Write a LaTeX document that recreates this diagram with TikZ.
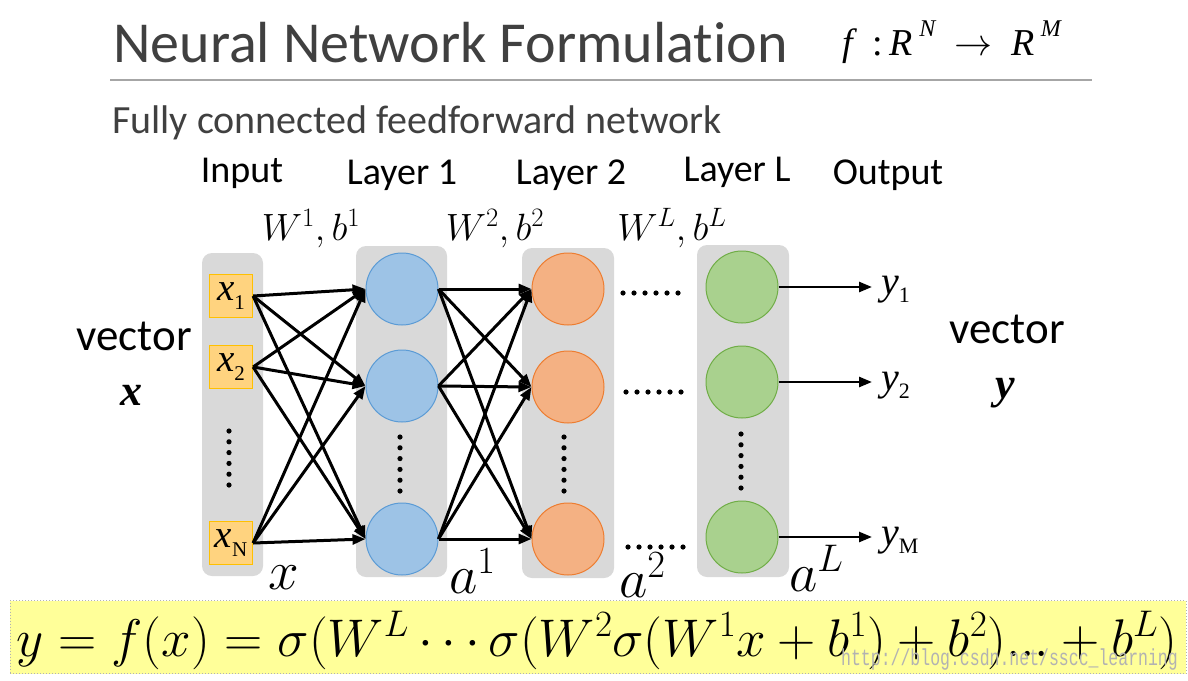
\RequirePackage{fix-cm}
\documentclass[tikz,border=0pt]{standalone}
\usepackage[no-math]{fontspec}
\setmainfont{Carlito}[Ligatures=NoCommon]
\newfontfamily\tnr{Liberation Serif}
\newfontfamily\wmfont{Liberation Mono}
\usetikzlibrary{arrows.meta}
\definecolor{boxgray}{HTML}{D9D9D9}
\definecolor{txtgray}{HTML}{404040}
\definecolor{rulegray}{HTML}{A6A6A6}
\definecolor{infill}{HTML}{FFD37F}
\definecolor{indraw}{HTML}{FFC000}
\definecolor{bluefill}{HTML}{9DC3E6}
\definecolor{bluedraw}{HTML}{5B9BD5}
\definecolor{orfill}{HTML}{F4B183}
\definecolor{ordraw}{HTML}{ED7D31}
\definecolor{grfill}{HTML}{A9D18E}
\definecolor{grdraw}{HTML}{70AD47}
\definecolor{formfill}{HTML}{FFFF99}
\newcommand{\inlab}[1]{{\tnr\fontsize{39}{39}\selectfont\itshape x\raisebox{-0.22em}{\fontsize{21}{21}\selectfont\upshape #1}}}
\newcommand{\outlab}[1]{{\tnr\fontsize{40}{40}\selectfont\itshape y\raisebox{-0.22em}{\fontsize{22}{22}\selectfont\upshape #1}}}
\begin{document}
\begin{tikzpicture}[x=1pt,y=-1pt,
  graybox/.style={fill=boxgray, rounded corners=10pt, inner sep=0pt, draw=none},
  inbox/.style={fill=infill, draw=indraw, line width=1.2pt, minimum size=43pt, inner sep=0pt},
  neuron/.style={circle, minimum size=72pt, inner sep=0pt, line width=1pt},
  blueN/.style={neuron, fill=bluefill, draw=bluedraw},
  orN/.style={neuron, fill=orfill, draw=ordraw},
  grN/.style={neuron, fill=grfill, draw=grdraw},
  conn/.style={line width=3pt, -{Triangle[length=13pt,width=10pt]}},
  outconn/.style={line width=2.5pt, -{Triangle[length=13pt,width=10pt]}, shorten >=9pt},
  layerlab/.style={anchor=base, inner sep=0pt, font=\fontsize{38}{40}\selectfont},
  wlab/.style={anchor=base, inner sep=0pt, font=\fontsize{38}{40}\selectfont},
  alab/.style={anchor=base west, inner sep=0pt, font=\fontsize{55}{58}\selectfont},
  veclab/.style={anchor=base, inner sep=0pt, font=\fontsize{45}{48}\selectfont}
]
\useasboundingbox (0,0) rectangle (1188,680);
\fill[white] (0,0) rectangle (1188,680);

% title
\node[anchor=base west, inner sep=0pt, text=txtgray, font=\fontsize{58}{60}\selectfont] (title) at (113,62) {Neural Network Formulation};
\node[anchor=base west, inner sep=0pt, font=\tnr\fontsize{38}{40}\selectfont] (fmap) at (842,55)
  {\textit{f}\, :\,\textit{R}\,\raisebox{0.5em}{\fontsize{24}{24}\selectfont\itshape N}\enspace$\rightarrow$\enspace\textit{R}\,\raisebox{0.5em}{\fontsize{24}{24}\selectfont\itshape M}};
\draw[rulegray, line width=1.5pt] (110,80) -- (1092,80);
\node[anchor=base west, inner sep=0pt, text=txtgray, font=\fontsize{40}{42}\selectfont] (sub) at (112,133) {Fully connected feedforward network};

% layer labels
\node[layerlab] (lin) at (242,182) {Input};
\node[layerlab] (l1) at (402,184) {Layer 1};
\node[layerlab] (l2) at (571,184) {Layer 2};
\node[layerlab] (lL) at (737,181) {Layer L};
\node[layerlab] (lout) at (888,184) {Output};

\node[wlab] (w1) at (311,240) {$W^1,b^1$};
\node[wlab] (w2) at (495,240) {$W^2,b^2$};
\node[wlab] (wL) at (672,240) {$W^L,b^L$};

% gray columns
\node[graybox, minimum width=61pt, minimum height=323pt] (colin) at (232.5,414.5) {};
\node[graybox, minimum width=91pt, minimum height=331pt] (col1) at (401.5,411.5) {};
\node[graybox, minimum width=92pt, minimum height=330pt] (col2) at (568,413) {};
\node[graybox, minimum width=92pt, minimum height=332pt] (colL) at (743,411) {};

% inputs
\node[inbox] (x1) at (231,296) {\inlab{1}};
\node[inbox] (x2) at (231,367) {\inlab{2}};
\node[inbox] (xN) at (231,543) {\inlab{N}};

% neurons
\node[blueN] (h11) at (402,289) {};
\node[blueN] (h12) at (402,386) {};
\node[blueN] (h13) at (402,539) {};
\node[orN] (h21) at (568,289) {};
\node[orN] (h22) at (568,387) {};
\node[orN] (h23) at (568,539) {};
\node[grN] (hL1) at (742,287) {};
\node[grN] (hL2) at (742,382) {};
\node[grN] (hL3) at (742,537) {};

% vertical dots
\foreach \cx/\cy in {229/431, 400/437, 564/437, 741/434}
  \foreach \k in {0,...,5}
    \fill (\cx,\cy+\k*10.8) circle (2.6pt);
% horizontal dots
\foreach \cx/\cy in {623/293, 626/392, 628/547}
  \foreach \k in {0,...,5}
    \fill (\cx+\k*11,\cy) circle (2.6pt);

% connections
\foreach \a in {x1,x2,xN}
  \foreach \b in {h11,h12,h13}
    \draw[conn] (\a.east) -- (\b.west);
\foreach \a in {h11,h12,h13}
  \foreach \b in {h21,h22,h23}
    \draw[conn] (\a.east) -- (\b.west);

% outputs
\node[anchor=base west, inner sep=0pt] (y1) at (881,294) {\outlab{1}};
\node[anchor=base west, inner sep=0pt] (y2) at (881,390) {\outlab{2}};
\node[anchor=base west, inner sep=0pt] (yM) at (881,545) {\outlab{M}};
\draw[outconn] (hL1.east) -- (hL1.east -| y1.west);
\draw[outconn] (hL2.east) -- (hL2.east -| y2.west);
\draw[outconn] (hL3.east) -- (hL3.east -| yM.west);

% vector labels
\node[veclab] (vx) at (134,350) {vector};
\node[anchor=base, inner sep=0pt, font=\tnr\bfseries\itshape\fontsize{44}{44}\selectfont] (bx) at (131,405) {x};
\node[veclab] (vy) at (1007,343) {vector};
\node[anchor=base, inner sep=0pt, font=\tnr\bfseries\itshape\fontsize{44}{44}\selectfont] (by) at (1005,398) {y};

% activation labels
\node[alab] (ax) at (268,589) {$x$};
\node[alab] (a1) at (449,593) {$a^1$};
\node[alab] (a2) at (619,597) {$a^2$};
\node[alab] (aL) at (789,591) {$a^L$};

% formula
\node[fill=formfill, draw=gray!60, dotted, line width=1pt, minimum width=1176pt, minimum height=73pt, inner sep=0pt] (fbox) at (598,637) {};
\node[anchor=base, inner sep=0pt, font=\fontsize{53}{56}\selectfont] (formula) at (597,656)
  {$y=f(x)=\sigma(W^L\cdots\sigma(W^2\sigma(W^1x+b^1)+b^2)...+b^L)$};
\node[anchor=base east, inner sep=0pt, text=gray!60, font=\wmfont\fontsize{16.5}{17}\selectfont, yscale=1.4] (wm) at (1178,665) {http://blog.csdn.net/sscc\_learning};
\end{tikzpicture}
\end{document}
